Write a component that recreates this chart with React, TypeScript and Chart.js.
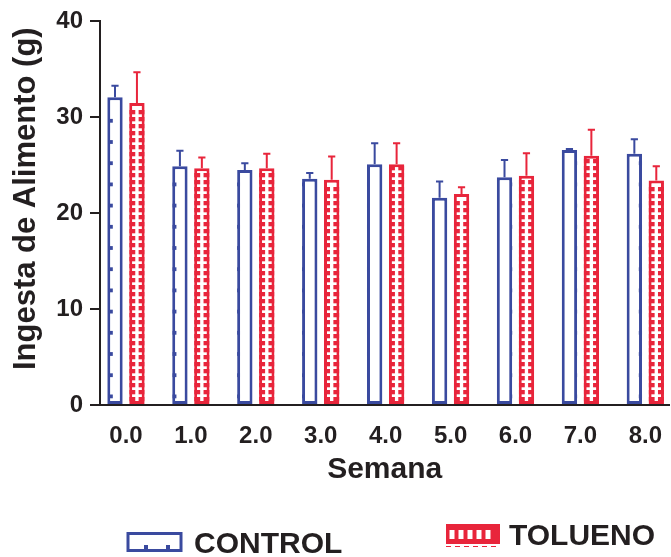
import React, { useEffect, useRef } from "react";
import { Chart, registerables } from "chart.js";

Chart.register(...registerables);

const weeks = ["0.0", "1.0", "2.0", "3.0", "4.0", "5.0", "6.0", "7.0", "8.0"];
const controlMean = [32.1, 24.9, 24.5, 23.6, 25.1, 21.6, 23.75, 26.6, 26.2];
const controlSem = [1.2, 1.6, 0.7, 0.6, 2.2, 1.7, 1.8, 0.1, 1.5];
const tolMean = [31.5, 24.7, 24.7, 23.5, 25.1, 22.0, 23.9, 26.0, 23.4];
const tolSem = [3.2, 1.1, 1.5, 2.4, 2.2, 0.7, 2.35, 2.7, 1.5];
const seriesLabels = ["CONTROL", "TOLUENO"];
const yTitle = "Ingesta de Alimento (g)";
const xTitle = "Semana";

const BLUE = "#3A4A9F";
const RED = "#E8253B";
const INK = "#231F20";
const FONT = "'Liberation Sans', Arial, Helvetica, sans-serif";

const sems = [controlSem, tolSem];

const barDecor = {
  id: "barDecor",
  afterDatasetsDraw(chart: any) {
    const ctx = chart.ctx;
    const yScale = chart.scales.y;
    chart.data.datasets.forEach((ds: any, di: number) => {
      const meta = chart.getDatasetMeta(di);
      if (!meta.data.length) return;
      const first = meta.data[0].getProps(["x", "width"], true);
      const firstLeft = first.x - first.width / 2;
      meta.data.forEach((el: any, i: number) => {
        const { x, y, base, width } = el.getProps(["x", "y", "base", "width"], true);
        const left = x - width / 2;
        const right = x + width / 2;
        ctx.save();
        ctx.beginPath();
        ctx.rect(left, y, width, base - y);
        ctx.clip();
        ctx.fillStyle = ds.borderColor;
        if (di === 0) {
          const P = 21.2;
          const k0 = Math.floor((left - firstLeft - 6) / P);
          for (let k = k0; firstLeft + 1 + k * P < right; k++) {
            const mx = firstLeft + 1.5 + k * P;
            for (let my = base - 9.5; my > y + 2; my -= P) {
              ctx.fillRect(mx, my, 4, 3.8);
            }
          }
        } else {
          for (let my = base - 7; my > y + 1; my -= 7) {
            ctx.fillRect(left, my, 6, 4.3);
            ctx.fillRect(right - 6, my, 6, 4.3);
          }
        }
        ctx.restore();

        // error bar (upper SEM)
        const v = ds.data[i].y;
        const yt = yScale.getPixelForValue(v + sems[di][i]);
        ctx.save();
        ctx.strokeStyle = ds.borderColor;
        ctx.lineWidth = 2;
        ctx.beginPath();
        ctx.moveTo(x, y);
        ctx.lineTo(x, yt);
        ctx.moveTo(x - 3.6, yt);
        ctx.lineTo(x + 3.6, yt);
        ctx.stroke();
        ctx.restore();
      });
    });
  },
};

const extras = {
  id: "extras",
  afterDraw(chart: any) {
    const ctx = chart.ctx;
    const area = chart.chartArea;
    ctx.save();
    // y title
    ctx.translate(26, (area.top + area.bottom) / 2 - 14.5);
    ctx.rotate(-Math.PI / 2);
    ctx.font = `bold 31px ${FONT}`;
    ctx.fillStyle = INK;
    ctx.textAlign = "center";
    ctx.textBaseline = "middle";
    ctx.fillText(yTitle, 0, 0);
    ctx.restore();

    // legend
    ctx.save();
    ctx.strokeStyle = BLUE;
    ctx.lineWidth = 3;
    ctx.strokeRect(128, 533.5, 53, 17);
    ctx.fillStyle = BLUE;
    ctx.fillRect(144, 545, 4, 4);
    ctx.fillRect(166, 545, 4, 4);
    ctx.font = `bold 30px ${FONT}`;
    ctx.fillStyle = INK;
    ctx.textAlign = "left";
    ctx.textBaseline = "alphabetic";
    ctx.fillText(chart.data.datasets[0].label, 194, 553);

    ctx.fillStyle = RED;
    ctx.fillRect(446, 524, 54, 20);
    ctx.fillStyle = "#ffffff";
    for (let cx = 449.5; cx + 5 < 498; cx += 9) ctx.fillRect(cx, 530, 5, 9);
    ctx.strokeStyle = RED;
    ctx.lineWidth = 1.2;
    ctx.setLineDash([5, 4]);
    ctx.beginPath();
    ctx.moveTo(446, 546.5);
    ctx.lineTo(500, 546.5);
    ctx.stroke();
    ctx.setLineDash([]);
    ctx.fillStyle = INK;
    ctx.fillText(chart.data.datasets[1].label, 509, 545);
    ctx.restore();
  },
};

export default function App() {
  const ref = useRef<HTMLCanvasElement>(null);

  useEffect(() => {
    const canvas = ref.current;
    if (!canvas) return;
    const toPoints = (arr: number[]) => arr.map((v, i) => ({ x: parseFloat(weeks[i]), y: v }));
    const chart = new Chart(canvas, {
      type: "bar",
      data: {
        datasets: [
          {
            label: seriesLabels[0],
            data: toPoints(controlMean),
            backgroundColor: "#ffffff",
            borderColor: BLUE,
            borderWidth: 3,
            borderSkipped: false,
            categoryPercentage: 0.676,
            barPercentage: 0.7,
          },
          {
            label: seriesLabels[1],
            data: toPoints(tolMean),
            backgroundColor: "#ffffff",
            borderColor: RED,
            borderWidth: 3,
            borderSkipped: false,
            categoryPercentage: 0.676,
            barPercentage: 0.7,
          },
        ] as any,
      },
      options: {
        animation: false,
        responsive: false,
        devicePixelRatio: 1,
        layout: { padding: { top: 21, left: 0, right: 0, bottom: 0 } },
        plugins: {
          legend: { display: false },
          tooltip: { enabled: false },
        },
        scales: {
          x: {
            type: "linear",
            min: -0.4,
            max: 8.37,
            offset: false,
            afterFit: (s: any) => {
              s.height = 152;
            },
            afterBuildTicks: (s: any) => {
              s.ticks = weeks.map((w) => ({ value: parseFloat(w) }));
            },
            grid: { display: false },
            border: { display: true, color: INK, width: 2 },
            ticks: {
              autoSkip: false,
              maxRotation: 0,
              padding: 9,
              color: INK,
              font: { family: FONT, size: 24, weight: "bold" },
              callback: (_v: any, i: number) => weeks[i],
            },
            title: {
              display: true,
              text: xTitle,
              color: INK,
              font: { family: FONT, size: 30, weight: "bold" },
              padding: { top: 0, bottom: 69.5 },
            },
          } as any,
          y: {
            min: 0,
            max: 40,
            afterFit: (s: any) => {
              s.width = 100;
            },
            afterBuildTicks: (s: any) => {
              s.ticks = [0, 10, 20, 30, 40].map((v) => ({ value: v }));
            },
            grid: {
              display: true,
              drawOnChartArea: false,
              drawTicks: true,
              tickLength: 10,
              color: INK,
              lineWidth: 2,
            },
            border: { display: true, color: INK, width: 2 },
            ticks: {
              padding: 7,
              color: INK,
              font: { family: FONT, size: 24, weight: "bold" },
            },
          } as any,
        },
      },
      plugins: [barDecor, extras],
    });
    return () => chart.destroy();
  }, []);

  return (
    <div style={{ position: "absolute", left: 0, top: 0, width: 671, height: 557, overflow: "hidden", background: "#fff" }}>
      <canvas ref={ref} width={671} height={557} style={{ display: "block" }} />
    </div>
  );
}
